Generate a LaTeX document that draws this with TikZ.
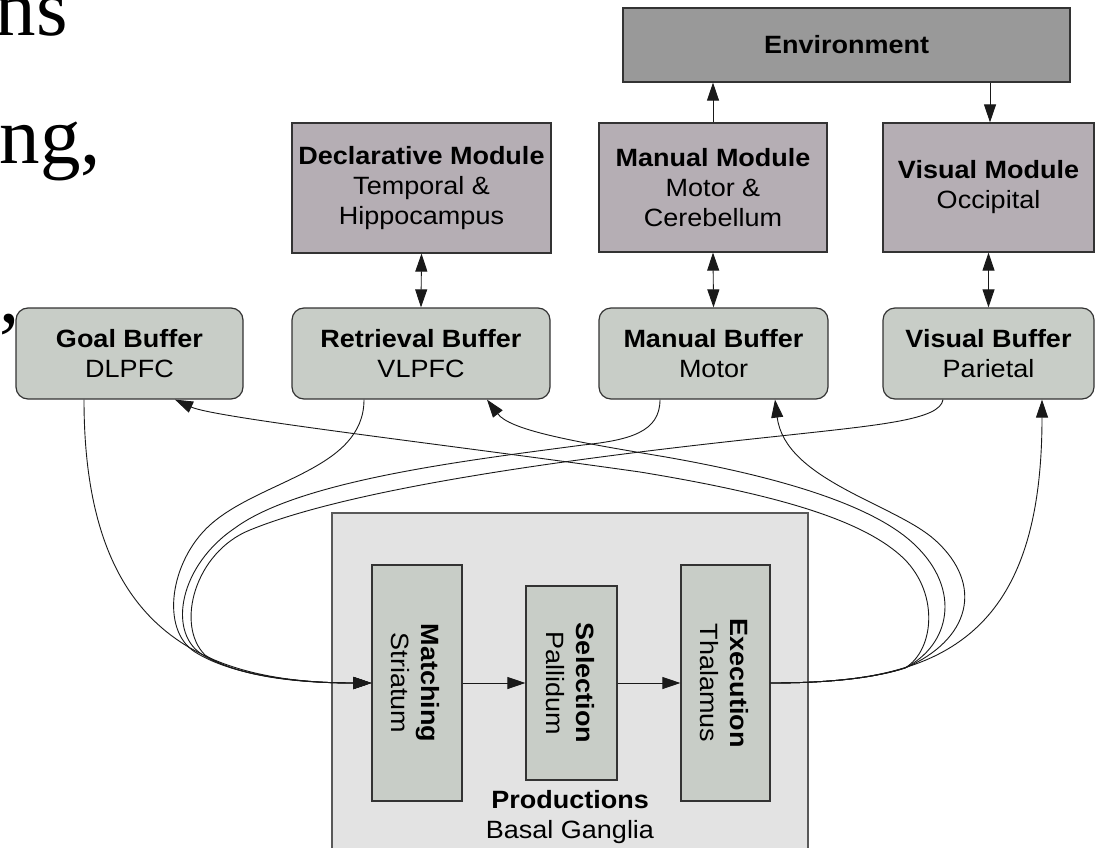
\documentclass[tikz,border=0pt]{standalone}
\usepackage{fontspec}
\setmainfont[FakeStretch=1.08]{Liberation Sans}
\newfontfamily\slideserif{Liberation Serif}
\usetikzlibrary{arrows.meta}
\definecolor{envfill}{HTML}{999999}
\definecolor{modfill}{HTML}{B5AEB4}
\definecolor{buffill}{HTML}{C8CDC7}
\definecolor{prodfill}{HTML}{E3E3E3}
\definecolor{edge}{HTML}{333333}
\begin{document}
\begin{tikzpicture}[x=1pt,y=-1pt,
  txt/.style={font=\fontsize{25pt}{30pt}\selectfont, align=center, text=black},
  envbox/.style={draw=edge, fill=envfill, line width=1.2pt, txt, inner sep=0pt},
  modbox/.style={draw=edge, fill=modfill, line width=1.2pt, txt, inner sep=0pt},
  bufbox/.style={draw=edge, fill=buffill, line width=1.2pt, rounded corners=12pt, txt, inner sep=0pt},
  prodbox/.style={draw=black!65, fill=prodfill, line width=1.6pt, inner sep=0pt},
  innerbox/.style={draw=edge, fill=buffill, line width=1.2pt, inner sep=0pt},
  conn/.style={draw=black!90, line width=0.9pt},
  arr/.style={conn, -{Triangle[length=18pt,width=12pt]}},
  dbl/.style={conn, {Triangle[length=18pt,width=12pt]}-{Triangle[length=18pt,width=12pt]}},
  slide/.style={font=\slideserif\fontsize{81pt}{90pt}\selectfont, inner sep=0pt, anchor=base east}
]
\useasboundingbox (0,0) rectangle (1097,848);

% cropped slide text
\begin{scope}
\clip (0,0) rectangle (1097,848);
\node[slide] (s1) at (68,36) {ns};
\node[slide] (s2) at (101,164) {ng,};
\node[slide] (s3) at (20,322) {,};
\end{scope}

% productions
\begin{scope}
\clip (0,0) rectangle (1097,848);
\node[prodbox, minimum width=476pt, minimum height=340pt] (prod) at (570,683) {};
\end{scope}
\node[txt, inner sep=0pt] (prodlbl) at (570,817) {\textbf{Productions}\\Basal Ganglia};

\node[innerbox, minimum width=90pt, minimum height=236pt] (match) at (417,683) {};
\node[innerbox, minimum width=91pt, minimum height=194pt] (sel) at (571.5,683) {};
\node[innerbox, minimum width=89pt, minimum height=236pt] (exec) at (725.5,683) {};
\node[txt, rotate=-90, inner sep=0pt] (matchlbl) at (415,683) {\textbf{Matching}\\Striatum};
\node[txt, rotate=-90, inner sep=0pt] (sellbl) at (570,683) {\textbf{Selection}\\Pallidum};
\node[txt, rotate=-90, inner sep=0pt] (execlbl) at (724,683) {\textbf{Execution}\\Thalamus};

% environment and modules
\node[envbox, minimum width=447pt, minimum height=74pt] (env) at (846.5,45) {\textbf{Environment}};
\node[modbox, minimum width=259pt, minimum height=130pt] (decl) at (421.5,188) {\textbf{Declarative Module}\\Temporal \&\\Hippocampus};
\node[modbox, minimum width=228pt, minimum height=129pt] (manmod) at (713,187.5) {\textbf{Manual Module}\\Motor \&\\Cerebellum};
\node[modbox, minimum width=211pt, minimum height=129pt] (vismod) at (988.5,187.5) {\textbf{Visual Module}\\Occipital};

% buffers
\node[bufbox, minimum width=227pt, minimum height=91pt] (goal) at (129.5,353.5) {\textbf{Goal Buffer}\\DLPFC};
\node[bufbox, minimum width=258pt, minimum height=91pt] (retr) at (421,353.5) {\textbf{Retrieval Buffer}\\VLPFC};
\node[bufbox, minimum width=229pt, minimum height=91pt] (manbuf) at (713.5,353.5) {\textbf{Manual Buffer}\\Motor};
\node[bufbox, minimum width=211pt, minimum height=91pt] (visbuf) at (988.5,353.5) {\textbf{Visual Buffer}\\Parietal};

% vertical connectors
\draw[arr] (manmod.north) -- (manmod.north |- env.south);
\draw[arr] ([xshift=1.5pt]vismod.north |- env.south) -- ([xshift=1.5pt]vismod.north);
\draw[dbl] (decl.south) -- (retr.north);
\draw[dbl] (manmod.south) -- (manbuf.north);
\draw[dbl] (vismod.south) -- (visbuf.north);

% pipeline
\draw[arr] (match.east) -- (sel.west);
\draw[arr] (sel.east) -- (exec.west);

% buffers -> matching
\draw[arr] ([xshift=-45.5pt]goal.south) .. controls (84,620) and (190,683) .. (match.west);
\draw[arr] ([xshift=-57pt]retr.south) .. controls (364,470) and (260,480) .. (210,525)
   .. controls (170,561) and (160,630) .. (195,652) .. controls (230,674) and (290,683) .. (match.west);
\draw[arr] ([xshift=-53.5pt]manbuf.south) .. controls (660,432) and (630,440) .. (583,445)
   .. controls (470,460) and (300,480) .. (235,528) .. controls (180,565) and (168,630) .. (200,653)
   .. controls (228,673) and (290,683) .. (match.west);
\draw[arr] ([xshift=-45.5pt]visbuf.south) .. controls (940,420) and (880,425) .. (780,436)
   .. controls (600,455) and (360,485) .. (250,530) .. controls (195,552) and (175,625) .. (205,655)
   .. controls (235,675) and (290,683) .. (match.west);

% execution -> buffers
\draw[arr] (exec.east) .. controls (840,683) and (880,676) .. (910,666)
   .. controls (1000,636) and (1042,560) .. ([xshift=53.5pt]visbuf.south);
\draw[arr] (exec.east) .. controls (840,683) and (880,676) .. (905,668)
   .. controls (935,650) and (940,590) .. (900,555) .. controls (860,520) and (780,495) .. (640,472)
   .. controls (450,445) and (215,418) .. ([xshift=45.5pt]goal.south);
\draw[arr] (exec.east) .. controls (840,683) and (880,676) .. (905,668)
   .. controls (950,645) and (962,590) .. (915,545) .. controls (880,511) and (800,480) .. (660,456)
   .. controls (570,441) and (510,430) .. ([xshift=66pt]retr.south);
\draw[arr] (exec.east) .. controls (840,683) and (880,676) .. (905,668)
   .. controls (970,640) and (985,585) .. (935,540) .. controls (895,504) and (785,480) .. ([xshift=61.5pt]manbuf.south);
\end{tikzpicture}
\end{document}
